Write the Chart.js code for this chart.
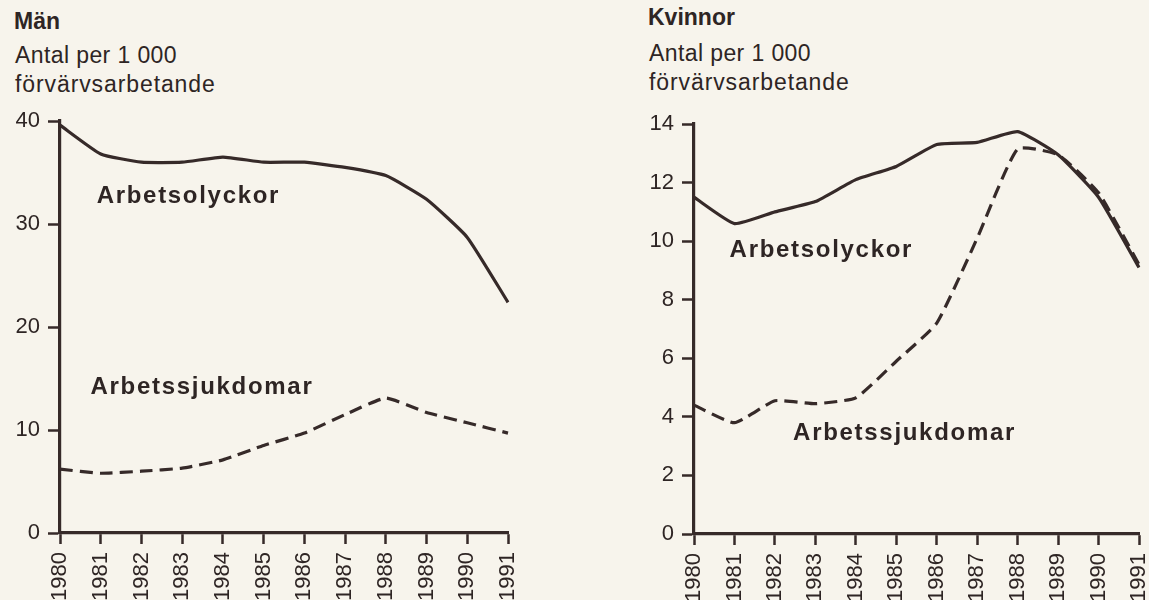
<!DOCTYPE html>
<html><head><meta charset="utf-8">
<script src="https://cdn.jsdelivr.net/npm/chart.js@4.4.1/dist/chart.umd.min.js"></script>
<style>
html,body{margin:0;padding:0;width:1149px;height:600px;overflow:hidden;background:#f7f4ec;}
.t{position:absolute;font-family:"Liberation Sans",Arial,sans-serif;color:#2e2524;white-space:nowrap;font-size:23px;line-height:23px;letter-spacing:0.4px;}
.w{letter-spacing:0.9px;}
.h{font-weight:bold;font-size:23px;line-height:23px;letter-spacing:0;}
canvas{position:absolute;top:0;}
</style></head><body>
<div class="t h" style="left:14px;top:10px">Män</div>
<div class="t" style="left:15px;top:44px">Antal per 1 000</div>
<div class="t w" style="left:15px;top:73px">förvärvsarbetande</div>
<div class="t h" style="left:648px;top:6px">Kvinnor</div>
<div class="t" style="left:649px;top:42px">Antal per 1 000</div>
<div class="t w" style="left:649px;top:71px">förvärvsarbetande</div>
<canvas id="c1" width="600" height="600" style="left:0;width:600px;height:600px"></canvas>
<canvas id="c2" width="515" height="600" style="left:634px;width:515px;height:600px"></canvas>
<script>
const years = ['1980','1981','1982','1983','1984','1985','1986','1987','1988','1989','1990','1991'];
const menAccidents  = [39.6, 36.8, 36.0, 36.0, 36.5, 36.0, 36.0, 35.5, 34.7, 32.4, 28.7, 22.4];
const menDiseases   = [6.2, 5.8, 6.0, 6.3, 7.1, 8.5, 9.7, 11.5, 13.1, 11.7, 10.7, 9.7];
const womenAccidents = [11.5, 10.6, 11.0, 11.35, 12.1, 12.55, 13.3, 13.37, 13.74, 12.95, 11.5, 9.1];
const womenDiseases  = [4.4, 3.8, 4.55, 4.45, 4.65, 5.9, 7.2, 10.1, 13.15, 12.95, 11.65, 9.2];
const menMax = 40, menStep = 10;
const womenMax = 14, womenStep = 2;
const labelAccidents = 'Arbetsolyckor';
const labelDiseases = 'Arbetssjukdomar';

const INK = '#362a29';
const TXT = '#2e2524';
const FONT = '"Liberation Sans", Arial, sans-serif';

const seriesLabelPlugin = {
  id: 'seriesLabels',
  afterDatasetsDraw(chart, args, opts) {
    const ctx = chart.ctx, xs = chart.scales.x, ys = chart.scales.y;
    ctx.save();
    ctx.fillStyle = TXT;
    ctx.font = 'bold 24px ' + FONT;
    try { ctx.letterSpacing = '1.7px'; } catch(e) {}
    ctx.textAlign = 'left';
    ctx.textBaseline = 'middle';
    (opts.items || []).forEach(it => {
      ctx.fillText(it.text, xs.getPixelForValue(it.x), ys.getPixelForValue(it.y));
    });
    ctx.restore();
  }
};

function makeChart(id, acc, dis, max, step, pad, labels) {
  return new Chart(document.getElementById(id), {
    type: 'line',
    data: {
      labels: years,
      datasets: [
        { data: acc, borderColor: INK, borderWidth: 3.2, tension: 0.15, pointRadius: 0, fill: false },
        { data: dis, borderColor: INK, borderWidth: 3.2, borderDash: [13, 7], tension: 0.15, pointRadius: 0, fill: false }
      ]
    },
    options: {
      responsive: false,
      animation: false,
      layout: { padding: pad },
      plugins: { legend: { display: false }, tooltip: { enabled: false }, seriesLabels: { items: labels } },
      scales: {
        x: {
          type: 'category',
          offset: false,
          afterFit(s) { s.height = pad.xh; s.paddingLeft = 0; s.paddingRight = 0; },
          grid: { display: true, drawOnChartArea: false, drawTicks: true, tickLength: 11, tickColor: INK, tickWidth: 2.5, color: INK },
          border: { display: true, color: INK, width: 3.2 },
          ticks: { autoSkip: false, minRotation: 90, maxRotation: 90, padding: 8, color: TXT, font: { family: FONT, size: 22 } }
        },
        y: {
          min: 0, max: max,
          afterFit(s) { s.width = 60; },
          grid: { display: true, drawOnChartArea: false, drawTicks: true, tickLength: 12, tickColor: INK, tickWidth: 2.5, color: INK },
          border: { display: true, color: INK, width: 3.2 },
          ticks: { stepSize: step, padding: 8, color: TXT, font: { family: FONT, size: 22 } }
        }
      }
    },
    plugins: [seriesLabelPlugin]
  });
}

makeChart('c1', menAccidents, menDiseases, menMax, menStep,
  { top: 121, right: 92, left: 0, bottom: 0, xh: 67 },
  [ { text: labelAccidents, x: 0.9, y: 32.7 }, { text: labelDiseases, x: 0.75, y: 14.1 } ]);
makeChart('c2', womenAccidents, womenDiseases, womenMax, womenStep,
  { top: 124, right: 10, left: 0, bottom: 0, xh: 66 },
  [ { text: labelAccidents, x: 0.88, y: 9.67 }, { text: labelDiseases, x: 2.45, y: 3.42 } ]);
</script>
</body></html>
